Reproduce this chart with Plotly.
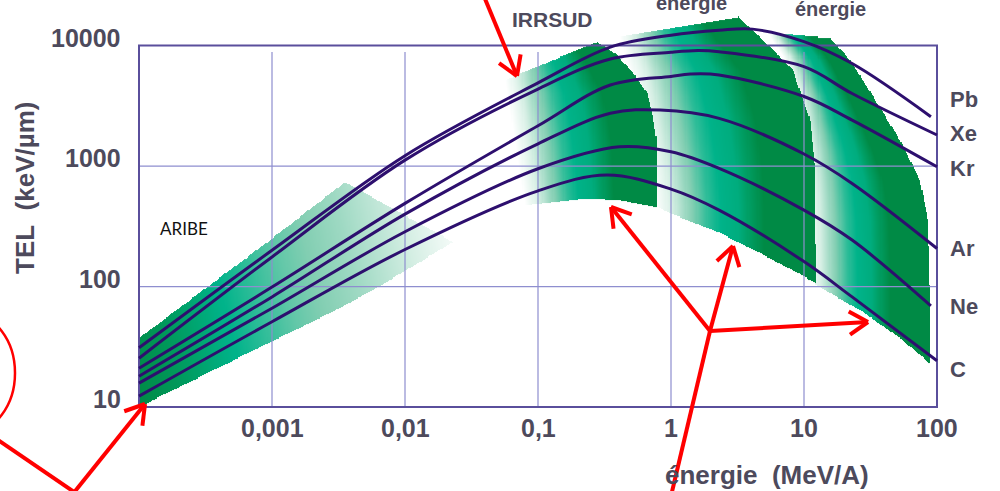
import numpy as np
import plotly.graph_objects as go

# ---------------------------------------------------------------
# Stopping power TEL (keV/µm) versus energy (MeV/A) for each ion
# ---------------------------------------------------------------
PB_E = [1e-4, 1e-3, 1e-2, 0.1, 0.35, 1, 2.3, 4.1, 10, 23, 90]
PB_TEL = [31, 200, 1220, 4900, 9700, 12200, 13400, 13700, 10800, 7100, 2570]

XE_E = [1e-4, 1e-3, 1e-2, 0.1, 0.35, 1, 1.6, 2.3, 10, 23, 100]
XE_TEL = [25.4, 176, 1120, 4360, 7740, 8800, 9100, 8900, 6680, 4000, 1810]

KR_E = [1e-4, 1e-3, 1e-2, 0.1, 0.35, 1, 1.4, 2.3, 10, 23, 100]
KR_TEL = [21, 99, 490, 2160, 4710, 5550, 5800, 5700, 3780, 2410, 986]

AR_E = [1e-4, 1e-3, 1e-2, 0.1, 0.35, 0.83, 2.3, 10, 23, 100]
AR_TEL = [18, 82, 399, 1530, 2740, 2920, 2490, 1260, 718, 207]

NE_E = [1e-4, 1e-3, 1e-2, 0.1, 0.41, 1, 2.3, 10, 23, 90]
NE_TEL = [15.8, 66, 285, 950, 1446, 1314, 957, 431, 243, 69]

C_E = [1e-4, 1e-3, 1e-2, 0.1, 0.33, 1, 2.3, 10, 23, 100]
C_TEL = [12.3, 51, 203, 623, 842, 644, 431, 161, 82, 24.2]

ION_NAMES = ["Pb", "Xe", "Kr", "Ar", "Ne", "C"]
ION_E = [PB_E, XE_E, KR_E, AR_E, NE_E, C_E]
ION_TEL = [PB_TEL, XE_TEL, KR_TEL, AR_TEL, NE_TEL, C_TEL]

X_TICKS = [0.001, 0.01, 0.1, 1, 10, 100]
X_TICK_TEXT = ["0,001", "0,01", "0,1", "1", "10", "100"]
Y_TICKS = [10, 100, 1000, 10000]
Y_TICK_TEXT = ["10", "100", "1000", "10000"]
E_MIN, E_MAX = 1e-4, 100
TEL_MIN, TEL_MAX = 10, 10000

# ---------------------------------------------------------------
# Accessible domains of the beam lines (outlines in energy / TEL)
# ---------------------------------------------------------------
ARIBE_E = [1e-4, 9.66e-4, 2.73e-3, 5.74e-3, 0.0230, 3.54e-3, 9.66e-4, 3.42e-4, 1e-4]
ARIBE_TEL = [10, 34.5, 60.1, 93.3, 234, 736, 243, 103, 37.2]

IRRSUD_LEFT_E = [0.0565, 0.0798]
IRRSUD_LEFT_TEL = [5180, 474]
IRRSUD_RIGHT_E = [0.278, 0.393, 0.518, 0.661, 0.733, 0.785, 0.785]
IRRSUD_RIGHT_TEL = [10720, 8360, 5920, 4040, 2550, 1550, 456]
IRRSUD_BOTTOM_E = [0.113, 0.233, 0.414]
IRRSUD_BOTTOM_TEL = [493, 542, 522]

MEDIUM_LEFT_E = [0.414, 0.509, 0.605, 0.695, 0.759]
MEDIUM_LEFT_TEL = [11790, 5180, 1990, 926, 474]
MEDIUM_RIGHT_E = [3.19, 4.67, 8.26, 11.1, 12.1, 12.3]
MEDIUM_RIGHT_TEL = [17280, 11790, 6270, 2410, 981, 107]
MEDIUM_BOTTOM_E = [0.933, 2.34, 5.55]
MEDIUM_BOTTOM_TEL = [415, 278, 172]

HIGH_LEFT_E = [5.36, 7.19, 8.85, 9.82, 10.35, 10.7]
HIGH_LEFT_TEL = [12730, 7600, 3530, 1360, 522, 137]
HIGH_RIGHT_E = [15.7, 22.2, 29.8, 52.7, 74.5, 85.5, 88.5, 88.5]
HIGH_RIGHT_TEL = [11570, 7600, 4530, 1640, 765, 356, 93, 23]
HIGH_BOTTOM_E = [12.3, 26.4, 52.7]
HIGH_BOTTOM_TEL = [103, 63.7, 37.3]

# ---------------------------------------------------------------
# Page geometry
# ---------------------------------------------------------------
W, H = 1000, 491
PAD = 4                      # px of breathing room around the frame
ML, MT = 135, 8
PW = 798 + 2 * PAD           # plot width  (6 decades)
PPD_X = 798 / 6.0
PPD_Y = 361.4 / 3.0
X_RANGE = [np.log10(E_MIN) - PAD / PPD_X, np.log10(E_MAX) + PAD / PPD_X]
Y_LOW = np.log10(TEL_MIN) - PAD / PPD_Y
FRAME_TOP_PX = 45.6
Y_HIGH = np.log10(TEL_MAX) + (FRAME_TOP_PX - MT) / PPD_Y
PH = (Y_HIGH - Y_LOW) * PPD_Y
MB = H - MT - PH
MR = W - ML - PW

TEXT = "#4d4a5c"
BOLD = "Liberation Sans, Arial, sans-serif"
CURVE = "#2d0f6e"
GRID = "#8e8ecf"
FRAME = "#5a4f9c"
RED = "#ff0000"


def paper(x, y):
    """Page pixel -> paper coordinates."""
    return (x - ML) / PW, (MT + PH - y) / PH


# ---------------------------------------------------------------
# Shaded domains rendered as a heatmap with transparent background
# ---------------------------------------------------------------
NX, NY = 720, 380
x_edges = np.linspace(np.log10(E_MIN), np.log10(E_MAX), NX + 1)
y_edges = np.linspace(np.log10(TEL_MIN), 4.32, NY + 1)
cx = 0.5 * (x_edges[:-1] + x_edges[1:])
cy = 0.5 * (y_edges[:-1] + y_edges[1:])
GX, GY = np.meshgrid(cx, cy)


def in_polygon(px, py, vx, vy):
    inside = np.zeros(px.shape, dtype=bool)
    n = len(vx)
    j = n - 1
    for i in range(n):
        xi, yi, xj, yj = vx[i], vy[i], vx[j], vy[j]
        if yi != yj:
            cross = ((yi > py) != (yj > py)) & (px < (xj - xi) * (py - yi) / (yj - yi) + xi)
            inside ^= cross
        j = i
    return inside


def lg(v):
    return np.log10(np.asarray(v, dtype=float))


def fan_region(left_e, left_t, right_e, right_t, bot_e, bot_t):
    """Domain bounded by curved left/right edges, shaded from left (pale) to right (dark)."""
    vx = np.concatenate([lg(left_e), lg(bot_e), lg(right_e)[::-1]])
    vy = np.concatenate([lg(left_t), lg(bot_t), lg(right_t)[::-1]])
    mask = in_polygon(GX, GY, vx, vy)
    lx = np.interp(GY, lg(left_t)[::-1], lg(left_e)[::-1])
    rx = np.interp(GY, lg(right_t)[::-1], lg(right_e)[::-1])
    t = np.clip((GX - lx) / np.maximum(rx - lx, 1e-6), 0, 1)
    z = np.interp(t, [0, 0.08, 0.2, 0.33, 0.42, 0.52, 0.68, 1.0],
                  [0.0, 0.1, 0.3, 0.48, 0.56, 0.62, 1.0, 1.0])
    return mask, z


Z = np.full(GX.shape, np.nan)

# low-energy line: dark in the lower-left corner, fading towards high TEL / energy
aribe_mask = in_polygon(GX, GY, lg(ARIBE_E), lg(ARIBE_TEL))
s = 0.3746 * (GX - np.log10(E_MIN)) + 0.0848 * (GY - np.log10(TEL_MIN))
aribe_z = np.interp(s, [0, 0.12, 0.3, 0.5, 0.7, 0.85, 1.0],
                    [1.0, 0.85, 0.56, 0.4, 0.28, 0.17, 0.04])
Z[aribe_mask] = aribe_z[aribe_mask]

for spec in [
    (HIGH_LEFT_E, HIGH_LEFT_TEL, HIGH_RIGHT_E, HIGH_RIGHT_TEL, HIGH_BOTTOM_E, HIGH_BOTTOM_TEL),
    (MEDIUM_LEFT_E, MEDIUM_LEFT_TEL, MEDIUM_RIGHT_E, MEDIUM_RIGHT_TEL, MEDIUM_BOTTOM_E, MEDIUM_BOTTOM_TEL),
    (IRRSUD_LEFT_E, IRRSUD_LEFT_TEL, IRRSUD_RIGHT_E, IRRSUD_RIGHT_TEL, IRRSUD_BOTTOM_E, IRRSUD_BOTTOM_TEL),
]:
    m, z = fan_region(*spec)
    Z[m] = z[m]

GREEN_SCALE = [
    [0.0, "#ffffff"],
    [0.15, "#d4eee3"],
    [0.35, "#82ceb2"],
    [0.55, "#00b38a"],
    [0.75, "#00a067"],
    [1.0, "#008a45"],
]

fig = go.Figure()
fig.add_trace(go.Heatmap(
    x=10 ** x_edges, y=10 ** y_edges, z=Z.astype(np.float32),
    colorscale=GREEN_SCALE, zmin=0, zmax=1, showscale=False,
    hoverinfo="skip", zsmooth=False,
))

# grid lines (vertical ones stop a little below the top of the frame)
grid_top = 10 ** (np.log10(TEL_MAX) - 6.4 / PPD_Y)
gx, gy = [], []
for v in X_TICKS[:-1]:
    gx += [v, v, None]
    gy += [TEL_MIN, grid_top, None]
for v in Y_TICKS[1:-1]:
    gx += [E_MIN, E_MAX, None]
    gy += [v, v, None]
fig.add_trace(go.Scatter(x=gx, y=gy, mode="lines", line=dict(color=GRID, width=1.2),
                         hoverinfo="skip", showlegend=False))

# frame
fig.add_trace(go.Scatter(
    x=[E_MIN, E_MAX, E_MAX, E_MIN, E_MIN], y=[TEL_MIN, TEL_MIN, TEL_MAX, TEL_MAX, TEL_MIN],
    mode="lines", line=dict(color=FRAME, width=2), hoverinfo="skip", showlegend=False))

# stopping-power curves
for name, e, tel in zip(ION_NAMES, ION_E, ION_TEL):
    fig.add_trace(go.Scatter(x=e, y=tel, mode="lines", name=name,
                             line=dict(color=CURVE, width=3, shape="spline", smoothing=1.0),
                             showlegend=False))

annotations = []
tick_font = dict(family=BOLD, size=25, color=TEXT, weight="bold")

# tick labels: y labels sit slightly above their grid line
for v, txt in zip(Y_TICKS, Y_TICK_TEXT):
    annotations.append(dict(x=paper(123, 0)[0], xref="paper", y=np.log10(v), yref="y",
                            yshift=8, xanchor="right", yanchor="middle", text=txt,
                            showarrow=False, font=tick_font))
for v, txt in zip(X_TICKS, X_TICK_TEXT):
    annotations.append(dict(x=np.log10(v), xref="x", y=paper(0, 428)[1], yref="paper",
                            xanchor="center", yanchor="middle", text=txt,
                            showarrow=False, font=tick_font))

# ion labels at the end of each curve
label_shift = [17, 2, -2, 0, -1, -9]
for name, e, tel, dy in zip(ION_NAMES, ION_E, ION_TEL, label_shift):
    annotations.append(dict(
        x=1.0, xref="paper", y=np.log10(tel[-1]), yref="y",
        xshift=(948 - (ML + PW)), yshift=dy, xanchor="left", yanchor="middle",
        text=name, showarrow=False,
        font=dict(family=BOLD, size=22, color=TEXT, weight="bold")))


def text_at(x, y, text, size, anchor="center", angle=0, color=TEXT, family=BOLD, weight="bold"):
    px, py = paper(x, y)
    annotations.append(dict(x=px, y=py, xref="paper", yref="paper", text=text,
                            showarrow=False, xanchor=anchor, yanchor="middle",
                            textangle=angle,
                            font=dict(family=family, size=size, color=color, weight=weight)))


text_at(25, 188, "TEL\u00a0\u00a0(keV/µm)", 26, angle=-90)
text_at(767, 475, "énergie\u00a0\u00a0(MeV/A)", 26)
text_at(552, 20, "IRRSUD", 21)
text_at(691, 3, "énergie", 20)
text_at(830, 9, "énergie", 20)
text_at(184, 228, "ARIBE", 17, color="#111111", family="Lato, Carlito, sans-serif", weight="normal")

# red call-out arrows
shapes = []


def seg(p, q, width=4):
    x0, y0 = paper(*p)
    x1, y1 = paper(*q)
    shapes.append(dict(type="line", xref="paper", yref="paper", x0=x0, y0=y0, x1=x1, y1=y1,
                       line=dict(color=RED, width=width)))


def arrow(tail, tip, head=22, spread=32):
    seg(tail, tip)
    dx, dy = tail[0] - tip[0], tail[1] - tip[1]
    n = np.hypot(dx, dy)
    bx, by = dx / n, dy / n
    for a in (np.radians(spread), -np.radians(spread)):
        ax = bx * np.cos(a) - by * np.sin(a)
        ay = bx * np.sin(a) + by * np.cos(a)
        seg(tip, (tip[0] + head * ax, tip[1] + head * ay))


hub = (710, 331)
arrow((483, -6), (517, 76))
arrow((72, 495), (145, 404))
seg((-2, 440), (80, 496))
arrow(hub, (611, 207))
arrow(hub, (733, 246))
arrow(hub, (868, 322))
seg(hub, (671, 496))

x0, y0 = paper(-75, 314)
x1, y1 = paper(15, 432)
shapes.append(dict(type="circle", xref="paper", yref="paper", x0=x0, y0=y1, x1=x1, y1=y0,
                   line=dict(color=RED, width=2.5)))

fig.update_layout(
    width=W, height=H,
    margin=dict(l=ML, r=MR, t=MT, b=MB, pad=0),
    paper_bgcolor="white", plot_bgcolor="white",
    showlegend=False,
    annotations=annotations,
    shapes=shapes,
    xaxis=dict(type="log", range=X_RANGE, showgrid=False, zeroline=False, showline=False,
               showticklabels=False, ticks=""),
    yaxis=dict(type="log", range=[Y_LOW, Y_HIGH], showgrid=False, zeroline=False, showline=False,
               showticklabels=False, ticks=""),
)

fig.write_html("out.html")
